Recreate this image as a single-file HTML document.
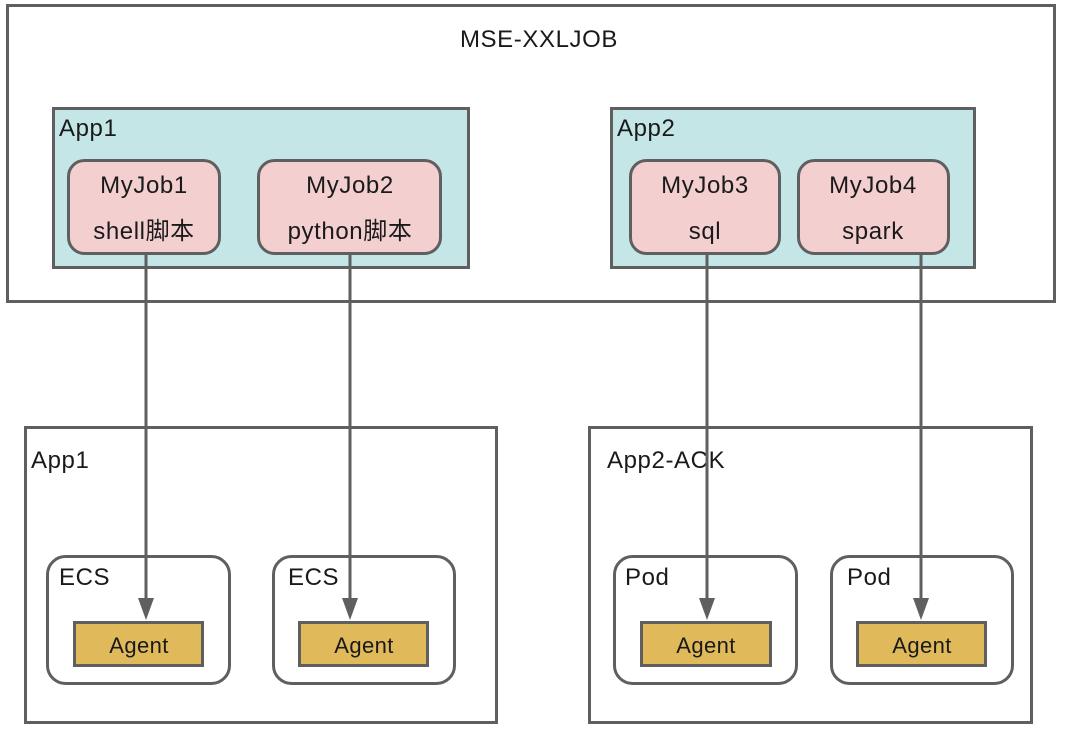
<!DOCTYPE html>
<html><head><meta charset="utf-8"><style>
html,body{margin:0;padding:0;background:#fff;}
svg{display:block;}
text{font-family:"Liberation Sans","Noto Sans CJK SC",sans-serif;fill:#1a1a1a;}
</style></head><body>
<svg width="1066" height="730" viewBox="0 0 1066 730" xmlns="http://www.w3.org/2000/svg">
<g stroke="#5f5f5f" stroke-width="3">
<rect x="7.5" y="5.5" width="1047" height="296" fill="#fff"/>
<rect x="53.5" y="108.5" width="415" height="159" fill="#c5e6e7"/>
<rect x="611.5" y="108.5" width="363" height="159" fill="#c5e6e7"/>
<rect x="68.5" y="160.5" width="151" height="93" rx="16" fill="#f3cfd0"/>
<rect x="258.5" y="160.5" width="182" height="93" rx="16" fill="#f3cfd0"/>
<rect x="630.5" y="160.5" width="149" height="93" rx="16" fill="#f3cfd0"/>
<rect x="798.5" y="160.5" width="150" height="93" rx="16" fill="#f3cfd0"/>
<rect x="25.5" y="427.5" width="471" height="295" fill="#fff"/>
<rect x="589.5" y="427.5" width="442" height="295" fill="#fff"/>
<rect x="47.5" y="556.5" width="182" height="127" rx="18" fill="#fff"/>
<rect x="273.5" y="556.5" width="181" height="127" rx="18" fill="#fff"/>
<rect x="614.5" y="556.5" width="182" height="127" rx="18" fill="#fff"/>
<rect x="831.5" y="556.5" width="181" height="127" rx="18" fill="#fff"/>
<rect x="74.5" y="622.5" width="128" height="43" fill="#e0b95a"/>
<rect x="299.5" y="622.5" width="128" height="43" fill="#e0b95a"/>
<rect x="641.5" y="622.5" width="129" height="43" fill="#e0b95a"/>
<rect x="857.5" y="622.5" width="128" height="43" fill="#e0b95a"/>
</g>
<g font-size="24" letter-spacing="0.6">
<text x="539" y="47" text-anchor="middle">MSE-XXLJOB</text>
<text x="59" y="136">App1</text>
<text x="617" y="136">App2</text>
<text x="144" y="193" text-anchor="middle">MyJob1</text>
<text x="144" y="239" text-anchor="middle">shell脚本</text>
<text x="350" y="193" text-anchor="middle">MyJob2</text>
<text x="350" y="239" text-anchor="middle">python脚本</text>
<text x="705" y="193" text-anchor="middle">MyJob3</text>
<text x="705" y="239" text-anchor="middle">sql</text>
<text x="873" y="193" text-anchor="middle">MyJob4</text>
<text x="873" y="239" text-anchor="middle">spark</text>
<text x="31" y="468">App1</text>
<text x="607" y="468">App2-ACK</text>
<text x="59" y="585">ECS</text>
<text x="288" y="585">ECS</text>
<text x="625" y="585">Pod</text>
<text x="847" y="585">Pod</text>
</g>
<g font-size="22" text-anchor="middle" letter-spacing="0.4">
<text x="139" y="653">Agent</text>
<text x="364" y="653">Agent</text>
<text x="706" y="653">Agent</text>
<text x="922" y="653">Agent</text>
</g>
<g stroke="#5f5f5f" stroke-width="3">
<line x1="146" y1="254" x2="146" y2="600"/>
<line x1="350" y1="254" x2="350" y2="600"/>
<line x1="707" y1="254" x2="707" y2="600"/>
<line x1="921" y1="254" x2="921" y2="600"/>
</g>
<g fill="#5f5f5f">
<path d="M138,598 L154,598 L146,620 Z"/>
<path d="M342,598 L358,598 L350,620 Z"/>
<path d="M699,598 L715,598 L707,620 Z"/>
<path d="M913,598 L929,598 L921,620 Z"/>
</g>
</svg>
</body></html>
